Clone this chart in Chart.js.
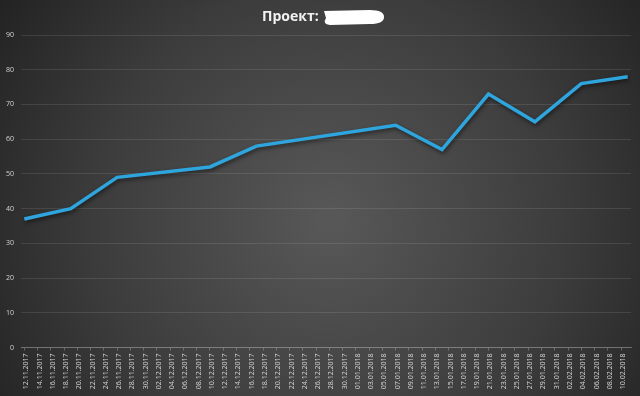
<!DOCTYPE html>
<html>
<head>
<meta charset="utf-8">
<script src="https://cdn.jsdelivr.net/npm/chart.js@4"></script>
<style>
  html, body { margin: 0; padding: 0; background: #333; }
  #wrap { width: 640px; height: 396px; position: relative; }
</style>
</head>
<body>
<div id="wrap"><canvas id="c" width="640" height="396"></canvas></div>
<script>
const titleText = 'Проект:';
const pointDates = ['12.11.2017','19.11.2017','26.11.2017','10.12.2017','17.12.2017','07.01.2018','14.01.2018','21.01.2018','28.01.2018','04.02.2018','11.02.2018'];
const pointValues = [37, 40, 49, 52, 58, 64, 57, 73, 65, 76, 78];
const tickLabels = ['12.11.2017','14.11.2017','16.11.2017','18.11.2017','20.11.2017','22.11.2017','24.11.2017','26.11.2017','28.11.2017','30.11.2017',
  '02.12.2017','04.12.2017','06.12.2017','08.12.2017','10.12.2017','12.12.2017','14.12.2017','16.12.2017','18.12.2017','20.12.2017',
  '22.12.2017','24.12.2017','26.12.2017','28.12.2017','30.12.2017','01.01.2018','03.01.2018','05.01.2018','07.01.2018','09.01.2018',
  '11.01.2018','13.01.2018','15.01.2018','17.01.2018','19.01.2018','21.01.2018','23.01.2018','25.01.2018','27.01.2018','29.01.2018',
  '31.01.2018','02.02.2018','04.02.2018','06.02.2018','08.02.2018','10.02.2018'];
const yTicks = [0, 10, 20, 30, 40, 50, 60, 70, 80, 90];

function dayOf(s) {
  const [d, m, y] = s.split('.').map(Number);
  const base = Date.UTC(2017, 10, 12);
  return Math.round((Date.UTC(y, m - 1, d) - base) / 86400000);
}

const bgPlugin = {
  id: 'bg',
  beforeDraw(chart) {
    const ctx = chart.ctx, w = chart.width, h = chart.height;
    ctx.save();
    const g = ctx.createRadialGradient(330, 220, 10, 330, 220, 420);
    g.addColorStop(0, '#575757');
    g.addColorStop(0.55, '#3c3c3c');
    g.addColorStop(1, '#1f1f1f');
    ctx.fillStyle = g;
    ctx.fillRect(0, 0, w, h);
    ctx.restore();
  },
  afterDraw(chart) {
    const ctx = chart.ctx;
    ctx.save();
    ctx.font = 'bold 14px "Open Sans", "Noto Sans", sans-serif';
    ctx.fillStyle = '#f2f2f2';
    ctx.textBaseline = 'middle';
    ctx.textAlign = 'left';
    ctx.fillText(titleText, 262, 17);
    // redaction blob
    ctx.fillStyle = '#ffffff';
    ctx.beginPath();
    ctx.moveTo(324, 11);
    ctx.lineTo(370, 10);
    ctx.quadraticCurveTo(384, 10, 384, 17);
    ctx.quadraticCurveTo(384, 24, 370, 24);
    ctx.lineTo(330, 25);
    ctx.quadraticCurveTo(322, 24, 326, 18);
    ctx.closePath();
    ctx.fill();
    ctx.restore();
  }
};

const shadowPlugin = {
  id: 'lineShadow',
  beforeDatasetsDraw(chart) {
    const ctx = chart.ctx;
    ctx.save();
    ctx.shadowColor = 'rgba(0,0,0,0.55)';
    ctx.shadowBlur = 4;
    ctx.shadowOffsetX = 1;
    ctx.shadowOffsetY = 2;
  },
  afterDatasetsDraw(chart) {
    chart.ctx.restore();
  }
};

new Chart(document.getElementById('c'), {
  type: 'line',
  data: {
    datasets: [{
      data: pointDates.map((d, i) => ({ x: dayOf(d), y: pointValues[i] })),
      borderColor: '#2fa5de',
      borderWidth: 3.5,
      pointRadius: 0,
      tension: 0,
      fill: false
    }]
  },
  options: {
    responsive: false,
    animation: false,
    layout: { padding: { top: 35, right: 9, left: 0, bottom: 0 } },
    plugins: { legend: { display: false }, title: { display: false }, tooltip: { enabled: false } },
    scales: {
      x: {
        type: 'linear',
        min: -0.5,
        max: 91.5,
        afterBuildTicks(axis) { axis.ticks = tickLabels.map(l => ({ value: dayOf(l) })); },
        afterFit(axis) { axis.height = 48.5; },
        border: { display: true, color: 'rgba(200,200,200,0.35)', width: 1 },
        grid: { display: true, drawOnChartArea: false, drawTicks: true, tickLength: 3, offset: false, color: 'rgba(200,200,200,0.35)' },
        ticks: {
          autoSkip: false,
          minRotation: 90,
          maxRotation: 90,
          padding: 3,
          labelOffset: 2,
          color: '#d4d4d4',
          font: { family: '"Open Sans", "Noto Sans", sans-serif', size: 7 },
          callback: (v, i) => tickLabels[i]
        }
      },
      y: {
        min: 0,
        max: 90,
        afterBuildTicks(axis) { axis.ticks = yTicks.map(v => ({ value: v })); },
        afterFit(axis) { axis.width = 21; },
        border: { display: false },
        grid: { color: 'rgba(255,255,255,0.10)', drawTicks: false, lineWidth: 1 },
        ticks: {
          padding: 7,
          color: '#d4d4d4',
          font: { family: '"Open Sans", "Noto Sans", sans-serif', size: 7 }
        }
      }
    }
  },
  plugins: [bgPlugin, shadowPlugin]
});
</script>
</body>
</html>
